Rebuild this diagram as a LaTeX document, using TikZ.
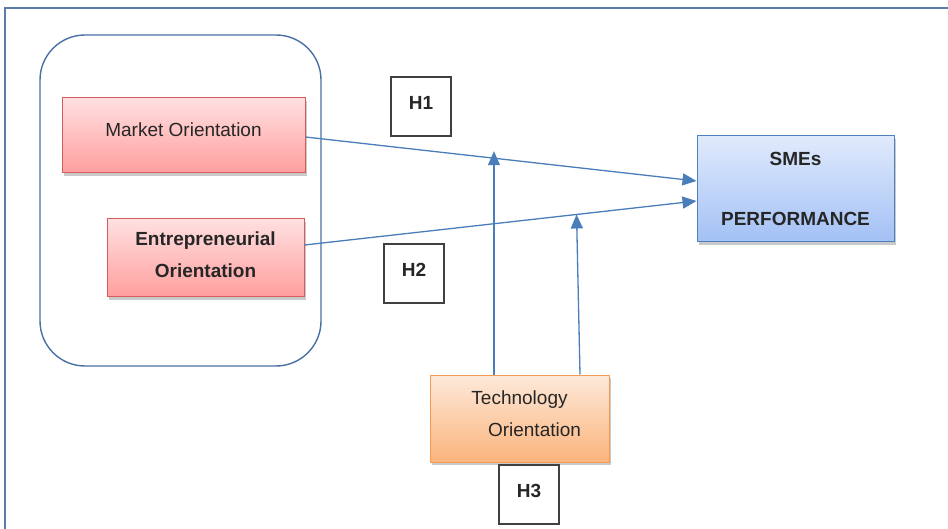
\documentclass[tikz,border=0pt]{standalone}
\usepackage{fontspec}
\setmainfont{Liberation Sans}
\usetikzlibrary{arrows.meta,shadows}

\definecolor{framegray}{HTML}{5B7BA8}
\definecolor{groupblue}{HTML}{4A6FA5}
\definecolor{linkblue}{HTML}{4A7EBB}
\definecolor{redline}{HTML}{D45C5C}
\definecolor{redtop}{HTML}{FFE0E0}
\definecolor{redbot}{HTML}{FF9E9E}
\definecolor{blueline}{HTML}{4F81BD}
\definecolor{bluetop}{HTML}{E0EAFC}
\definecolor{bluebot}{HTML}{A3C1F5}
\definecolor{orangeline}{HTML}{F59A52}
\definecolor{orangetop}{HTML}{FDE9DA}
\definecolor{orangebot}{HTML}{FBB47C}
\definecolor{textgray}{HTML}{262626}

\begin{document}
\begin{tikzpicture}[x=1pt, y=-1pt,
    varbox/.style={rectangle, line width=1pt, inner sep=0pt, align=center,
        text=textgray, drop shadow={shadow xshift=2pt, shadow yshift=-3pt, opacity=0.3, fill=black!70}},
    redbox/.style={varbox, draw=redline, top color=redtop, bottom color=redbot},
    bluebox/.style={varbox, draw=blueline, top color=bluetop, bottom color=bluebot},
    orangebox/.style={varbox, draw=orangeline, top color=orangetop, bottom color=orangebot},
    hbox/.style={rectangle, draw=black!75, fill=white, line width=1.2pt,
        minimum width=60pt, minimum height=59pt, text depth=8pt,
        font=\fontsize{19}{22}\selectfont\bfseries, text=textgray},
    link/.style={draw=linkblue, line width=1.3pt, -{Triangle[length=14pt, width=12pt]}, color=linkblue}]
    \useasboundingbox (0,0) rectangle (948,529);
    \draw[framegray, line width=1.5pt] (5,529) -- (5,8) -- (948,8);
    \node[draw=groupblue, line width=1.4pt, rounded corners=45pt,
        minimum width=281pt, minimum height=331pt] (grp) at (180.5,200.5) {};
    % orientations
    \node[redbox, minimum width=243pt, minimum height=75pt, text depth=12pt,
        font=\fontsize{19}{22}\selectfont] (mo) at (183.5,135.5) {Market Orientation};
    \node[redbox, minimum width=197pt, minimum height=78pt,
        font=\fontsize{19}{32}\selectfont\bfseries] (eo) at (205.5,258)
        {Entrepreneurial\\Orientation\rule[-6pt]{0pt}{6pt}};
    \node[orangebox, minimum width=179pt, minimum height=87pt,
        font=\fontsize{19}{32}\selectfont] (tech) at (519.5,418.5)
        {Technology\\\hspace*{30pt}Orientation\rule[-10pt]{0pt}{10pt}};
    \node[bluebox, minimum width=197pt, minimum height=106pt,
        font=\fontsize{19}{60}\selectfont\bfseries] (sme) at (795.5,189) {SMEs\\PERFORMANCE};
    % hypotheses
    \node[hbox] (h1) at (421,106.5) {H1};
    \node[hbox] (h2) at (414,273.5) {H2};
    \node[hbox] (h3) at (529,494.5) {H3};
    % paths
    \draw[link] ([yshift=-1.5pt]mo.east) -- ([yshift=8pt]sme.west) coordinate[pos=0.482] (c1);
    \draw[link] ([yshift=13pt]eo.east) -- ([yshift=-12pt]sme.west) coordinate[pos=0.694] (c2);
    \draw[link, shorten >=-7pt] (tech.north -| c1) -- (c1);
    \draw[link] ([xshift=60.5pt]tech.north) -- (c2);
\end{tikzpicture}
\end{document}
